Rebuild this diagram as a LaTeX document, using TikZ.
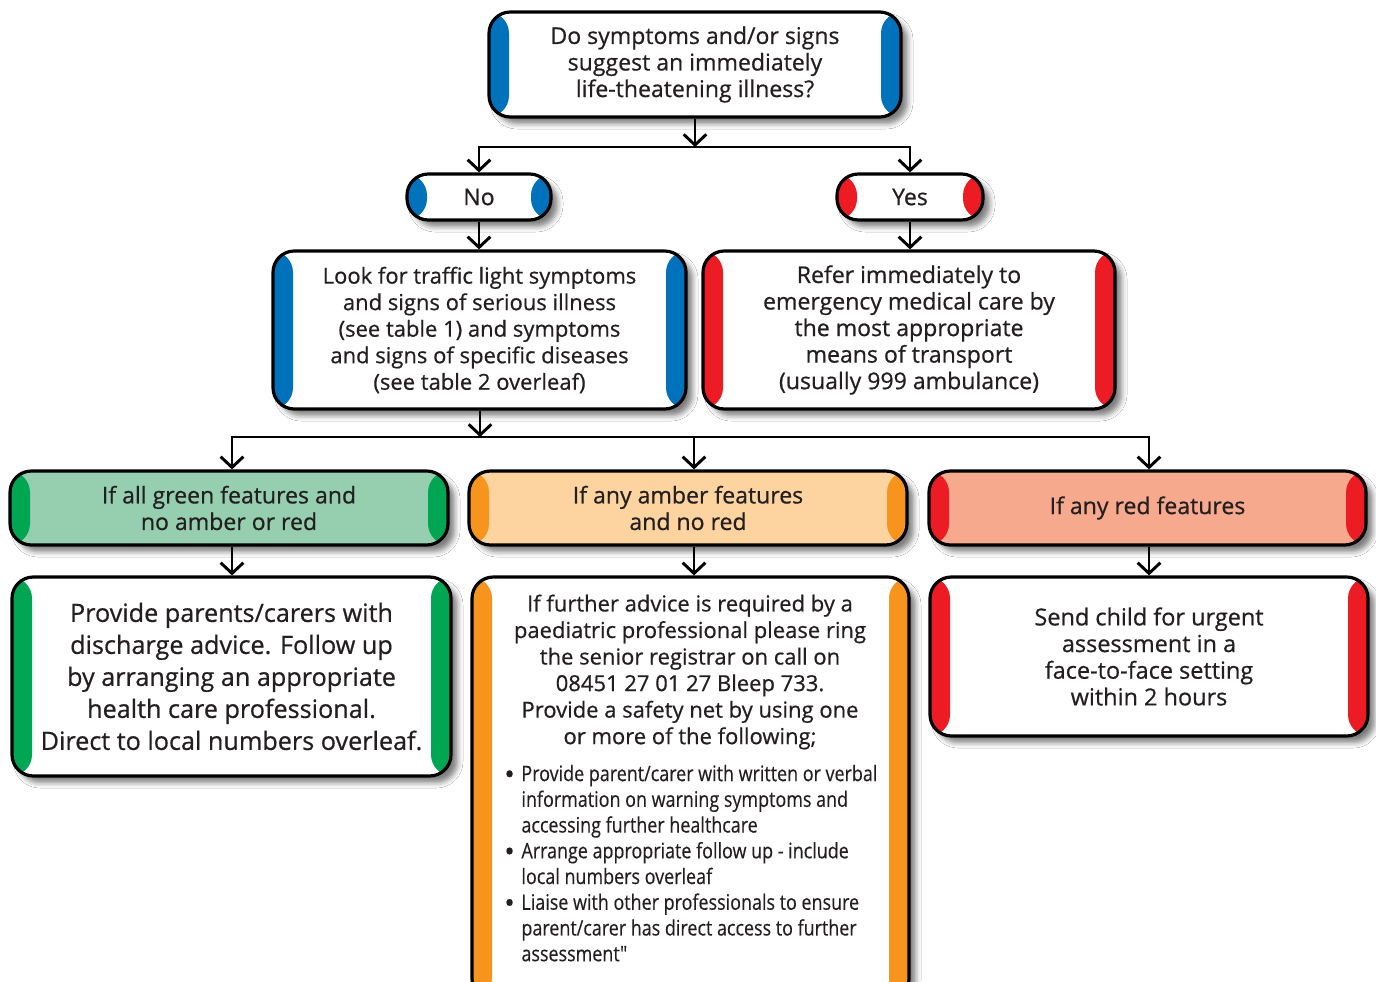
\documentclass[tikz,border=0pt]{standalone}
\usepackage{fontspec}
\setmainfont{Open Sans}[FakeBold=0.6]
\newfontfamily\condfont{Open Sans}[FakeStretch=0.84,FakeBold=0.3]
\usetikzlibrary{arrows.meta,shadows.blur}
\definecolor{tlblue}{HTML}{0072BC}
\definecolor{tlred}{HTML}{ED1C24}
\definecolor{tlgreen}{HTML}{00A651}
\definecolor{tlorange}{HTML}{F7941D}
\definecolor{lgreen}{HTML}{96CEB0}
\definecolor{lamber}{HTML}{FDD3A0}
\definecolor{lred}{HTML}{F7A98E}
\definecolor{tgray}{HTML}{231F20}
\newcommand\bigbul{\raisebox{-2.2pt}{\normalfont\fontsize{21}{19.3}\selectfont\textbullet}}
\tikzset{
  tlbox/.style n args={2}{rectangle, rounded corners=16pt, draw=black, line width=2.4pt,
    fill=#2, align=center, text=tgray, inner sep=0pt,
    blur shadow={shadow xshift=5pt, shadow yshift=-5pt, shadow blur radius=4pt, shadow opacity=50},
    path picture={
      \fill[#1] (path picture bounding box.south west) rectangle ([xshift=15pt]path picture bounding box.north west);
      \fill[#1] (path picture bounding box.south east) rectangle ([xshift=-15pt]path picture bounding box.north east);}},
  conn/.style={line width=2.2pt, draw=black},
  arr/.style={conn, -{Straight Barb[length=8pt,width=17pt]}},
  fa/.style={font=\fontsize{17.3}{19.9}\selectfont},
  fs/.style={font=\fontsize{16.5}{19.9}\selectfont},
  fr/.style={font=\fontsize{17.6}{20}\selectfont},
  fb/.style={font=\fontsize{18.9}{24}\selectfont},
}
\begin{document}
\begin{tikzpicture}[x=0.75pt,y=-0.75pt]
\clip (0,0) rectangle (1376,981);
\fill[white] (0,0) rectangle (1376,981);

\node[tlbox={tlblue}{white}, fa, minimum width=309pt, minimum height=78.75pt] (top) at (695,64.5)
  {Do symptoms and/or signs\\suggest an immediately\\life-theatening illness?};
\node[tlbox={tlblue}{white}, fa, minimum width=108pt, minimum height=34.5pt] (no) at (479,197) {No};
\node[tlbox={tlred}{white}, fa, minimum width=109.5pt, minimum height=34.5pt] (yes) at (910,197) {Yes};
\node[tlbox={tlblue}{white}, fs, minimum width=309.75pt, minimum height=118.5pt] (look) at (479.5,330)
  {Look for traffic light symptoms\\and signs of serious illness\\(see table 1) and symptoms\\and signs of specific diseases\\(see table 2 overleaf)};
\node[tlbox={tlred}{white}, fa, minimum width=309pt, minimum height=118.5pt] (refer) at (909,330)
  {Refer immediately to\\emergency medical care by\\the most appropriate\\means of transport\\(usually 999 ambulance)};

\node[tlbox={tlgreen}{lgreen}, fa, minimum width=328.5pt, minimum height=55.5pt] (gh) at (229,508)
  {If all green features and\\no amber or red};
\node[tlbox={tlorange}{lamber}, fa, minimum width=328.5pt, minimum height=55.5pt] (ah) at (688,508)
  {If any amber features\\and no red};
\node[tlbox={tlred}{lred}, fa, minimum width=327.75pt, minimum height=55.5pt] (rh) at (1147.5,508)
  {If any red features};

\node[tlbox={tlgreen}{white}, fb, minimum width=329.25pt, minimum height=149.25pt] (gc) at (231.5,676.5)
  {Provide parents/carers with\\discharge advice. Follow up\\by arranging an appropriate\\health care professional.\\Direct to local numbers overleaf.};
\node[tlbox={tlorange}{white}, minimum width=327.75pt, minimum height=317.25pt] (ac) at (690.5,788.5) {};
\node[tlbox={tlred}{white}, fr, minimum width=328.5pt, minimum height=119.25pt] (rc) at (1149,656.5)
  {Send child for urgent\\assessment in a\\face-to-face setting\\within 2 hours};

\node[fs, align=center, text=tgray, inner sep=0pt] (atext) at (690,672)
  {If further advice is required by a\\paediatric professional please ring\\the senior registrar on call on\\08451 27 01 27 Bleep 733.\\Provide a safety net by using one\\or more of the following;};
\node[anchor=west, text=tgray, inner sep=0pt, font=\condfont\fontsize{16}{19.3}\selectfont] (alist) at (504,866)
  {\begin{tabular}{@{}l@{\hspace{5pt}}l@{}}
   \bigbul & Provide parent/carer with written or verbal\\
     & information on warning symptoms and\\
     & accessing further healthcare\\
   \bigbul & Arrange appropriate follow up - include\\
     & local numbers overleaf\\
   \bigbul & Liaise with other professionals to ensure\\
     & parent/carer has direct access to further\\
     & assessment"
   \end{tabular}};

% connectors
\coordinate (b1) at (695,147);
\draw[arr] (top.south) -- (b1);
\draw[conn, line cap=rect] (no.north |- b1) -- (yes.north |- b1);
\draw[arr] (no.north |- b1) -- (no.north);
\draw[arr] (yes.north |- b1) -- (yes.north);
\draw[arr] (no.south) -- (no.south |- look.north);
\draw[arr] (yes.south) -- (yes.south |- refer.north);
\coordinate (b2) at (480,437);
\coordinate (a1) at (232,437);
\coordinate (a2) at (694,437);
\coordinate (a3) at (1149,437);
\draw[arr] (look.south -| b2) -- (b2);
\draw[conn, line cap=rect] (a1) -- (a3);
\draw[arr] (a1) -- (a1 |- gh.north);
\draw[arr] (a2) -- (a2 |- ah.north);
\draw[arr] (a3) -- (a3 |- rh.north);
\draw[arr] (gh.south -| a1) -- (gc.north -| a1);
\draw[arr] (ah.south -| a2) -- (ac.north -| a2);
\draw[arr] (rh.south -| a3) -- (rc.north -| a3);
\end{tikzpicture}
\end{document}
